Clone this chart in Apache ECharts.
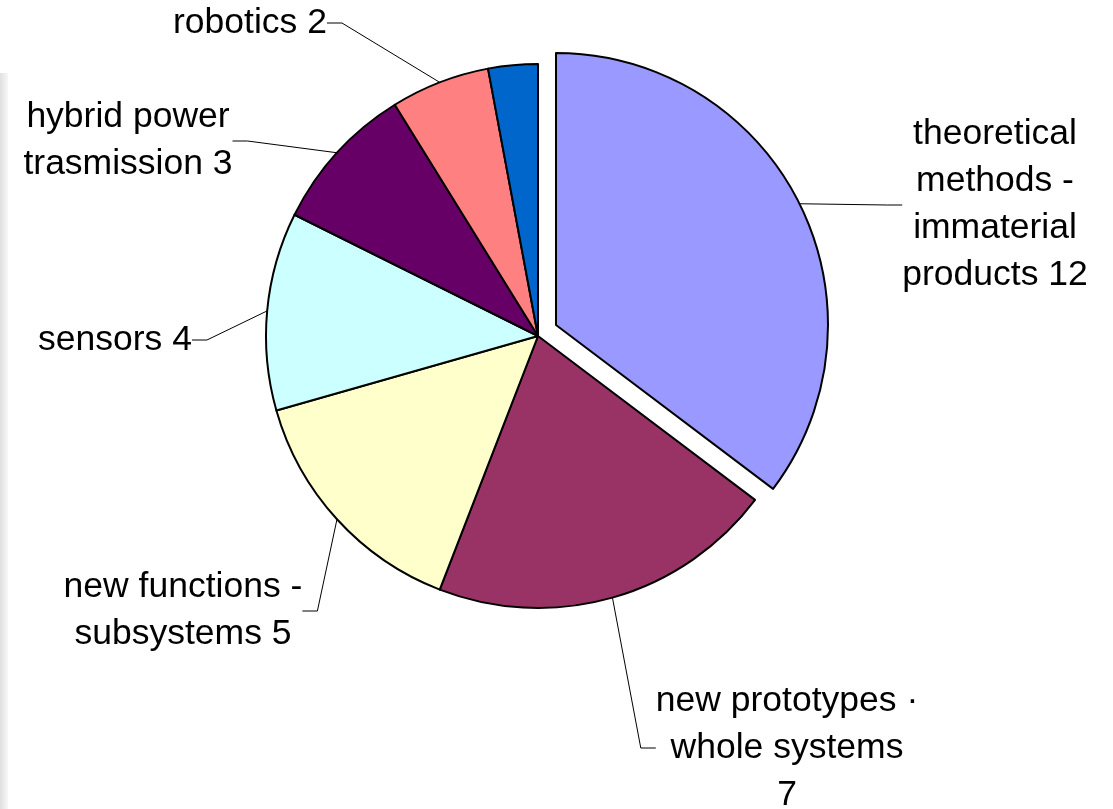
<!DOCTYPE html>
<html><head><meta charset="utf-8">
<script src="https://cdn.jsdelivr.net/npm/echarts@6/dist/echarts.min.js"></script>
<style>
html,body{margin:0;padding:0;background:#fff;}
#chart{width:1113px;height:809px;}
#strip{position:absolute;left:0;top:73px;width:8px;height:736px;background:linear-gradient(to right,#e0e0e0,#f7f7f7);z-index:2;}
</style></head><body>
<div id="strip"></div>
<div id="chart"></div>
<script>
// Data
const categories = ['theoretical methods - immaterial products', 'new prototypes - whole systems', 'new functions - subsystems', 'sensors', 'hybrid power trasmission', 'robotics', 'other'];
const values = [12, 7, 5, 4, 3, 2, 1];
const labelTemplates = [
  'theoretical\nmethods -\nimmaterial\nproducts {c}',
  'new prototypes ·\nwhole systems\n{c}',
  'new functions -\nsubsystems {c}',
  'sensors {c}',
  'hybrid power\ntrasmission {c}',
  'robotics {c}',
  ''
];
const colors = ['#9999FF', '#993366', '#FFFFCC', '#CCFFFF', '#660066', '#FF8080', '#0066CC'];
const explodedIndex = 0;
// layout (not data)
const labelPos = [[995, 205], [787, 748], [183, 611], [115, 340], [128, 141], [250, 23], [0, 0]];
const pieCenter = [538, 336];
const explodedCenter = [556, 325];
const pieRadius = 272;

function buildData(visibleFn) {
  return categories.map((c, i) => {
    const vis = visibleFn(i);
    const hasLabel = vis && labelTemplates[i] !== '';
    return {
      name: c,
      value: values[i],
      itemStyle: vis ? {color: colors[i], borderColor: '#000', borderWidth: 2}
                     : {color: 'rgba(0,0,0,0)', borderWidth: 0},
      label: {show: hasLabel},
      labelLine: {show: hasLabel}
    };
  });
}

const common = {
  type: 'pie',
  radius: pieRadius,
  startAngle: 90,
  clockwise: true,
  avoidLabelOverlap: false,
  silent: true,
  emphasis: {disabled: true},
  label: {
    show: true,
    position: 'outside',
    color: '#000',
    fontFamily: 'Liberation Sans, Arial, sans-serif',
    fontSize: 35.5,
    lineHeight: 47,
    align: 'center',
    formatter: p => labelTemplates[p.dataIndex].replace('{c}', p.value)
  },
  labelLine: {show: true, length: 20, length2: 15, lineStyle: {color: '#000', width: 1}},
  labelLayout: function (params) {
    const p = labelPos[params.dataIndex];
    return {x: p[0], y: p[1], align: 'center', verticalAlign: 'middle', moveOverlap: null};
  }
};

const chart = echarts.init(document.getElementById('chart'), null, {renderer: 'canvas'});
chart.setOption({
  animation: false,
  backgroundColor: '#fff',
  series: [
    Object.assign({}, common, {center: pieCenter, data: buildData(i => i !== explodedIndex)}),
    Object.assign({}, common, {center: explodedCenter, data: buildData(i => i === explodedIndex)})
  ]
});
</script>
</body></html>
